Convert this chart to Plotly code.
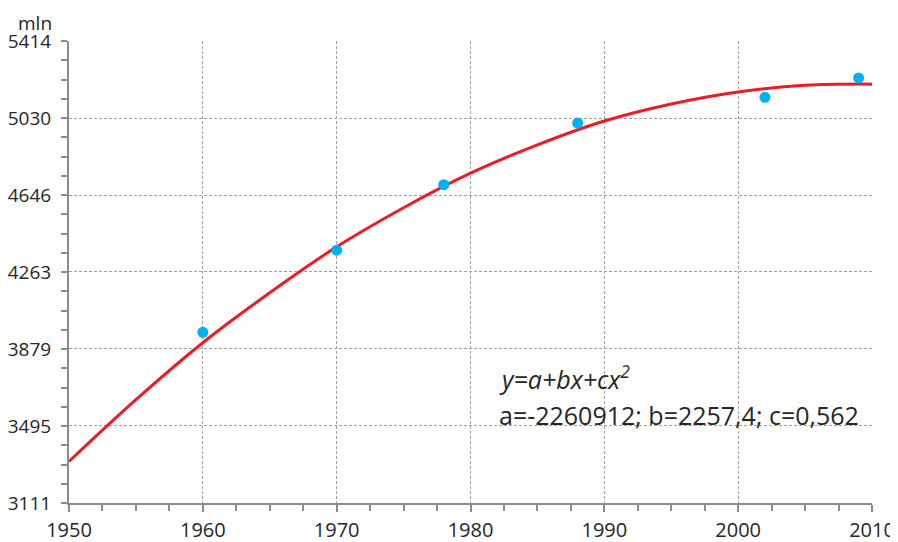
import plotly.graph_objects as go

# Observed data points (year, mln)
point_years = [1960, 1970, 1978, 1988, 2002, 2009]
point_values = [3962, 4371, 4698, 5005, 5133, 5230]

# Fitted trend curve
curve_years = [1950, 1955, 1960, 1965, 1970, 1975, 1980, 1985, 1990, 1995, 2000, 2005, 2010]
curve_values = [3318, 3626, 3910, 4159, 4388, 4583, 4755, 4896, 5015, 5100, 5160, 5193, 5199]

# Axis ticks
x_ticks = [1950, 1960, 1970, 1980, 1990, 2000, 2010]
y_ticks = [3111, 3495, 3879, 4263, 4646, 5030, 5414]
y_ticklabels = [str(v) for v in y_ticks]

# The page body has an 8px margin, so the figure sits at (8, 8) in the window
OFF = 8
W, H = 898 - OFF, 542 - OFF
# plot area in window pixels: x 69..872, y 41..503
L, R, T, B = 69 - OFF, W - (872 - OFF), 41 - OFF, H - (503 - OFF)
pw, ph = W - L - R, H - T - B

def px_to_paper(px, py):
    fx, fy = px - OFF, py - OFF
    return (fx - L) / pw, (H - B - fy) / ph

fig = go.Figure()
fig.add_trace(go.Scatter(
    x=curve_years, y=curve_values, mode="lines",
    line=dict(color="#ED1C24", width=3, shape="spline", smoothing=1.0),
    showlegend=False, hoverinfo="skip"))
fig.add_trace(go.Scatter(
    x=point_years, y=point_values, mode="markers",
    marker=dict(color="#00B0F0", size=11),
    showlegend=False))

font = "Open Sans, DejaVu Sans, sans-serif"
axcol = "#8C8C8C"
gridcol = "#A0A0A0"

fig.update_layout(
    width=W, height=H,
    margin=dict(l=L, r=R, t=T, b=B, pad=0),
    paper_bgcolor="white", plot_bgcolor="white",
    font=dict(family=font, size=20, color="#262626"),
    xaxis=dict(
        range=[1950, 2010], tickmode="array", tickvals=x_ticks,
        ticktext=[str(v) for v in x_ticks], automargin=False,
        showline=True, linecolor=axcol, linewidth=2,
        ticks="outside", ticklen=7, tickwidth=2, tickcolor=axcol,
        showgrid=True, gridcolor=gridcol, griddash="3px,2px", gridwidth=1,
        zeroline=False, ticklabelstandoff=1,
        minor=dict(tick0=1950, dtick=2.5, ticks="outside", ticklen=6,
                   tickwidth=2, tickcolor=axcol, showgrid=False),
    ),
    yaxis=dict(
        range=[3111, 5414], tickmode="array", tickvals=y_ticks,
        ticktext=y_ticklabels, automargin=False, tickfont=dict(size=19),
        showline=True, linecolor=axcol, linewidth=2,
        ticks="outside", ticklen=6, tickwidth=2, tickcolor=axcol,
        showgrid=True, gridcolor=gridcol, griddash="3px,2px", gridwidth=1,
        zeroline=False, ticklabelstandoff=6,
        minor=dict(tick0=3111, dtick=2303 / 24, ticks="outside", ticklen=6,
                   tickwidth=2, tickcolor=axcol, showgrid=False),
    ),
)

ax, ay = px_to_paper(35, 8)
fig.add_annotation(xref="paper", yref="paper", x=ax, y=ay, text="mln",
                   showarrow=False, xanchor="center", yanchor="top",
                   font=dict(size=19))
ex, ey = px_to_paper(497, 377)
fig.add_annotation(xref="paper", yref="paper", x=ex, y=ey,
                   text="<i>y=a+bx+cx<sup>2</sup></i>",
                   showarrow=False, xanchor="left", yanchor="middle",
                   font=dict(size=25))
ex2, ey2 = px_to_paper(497, 415)
fig.add_annotation(xref="paper", yref="paper", x=ex2, y=ey2,
                   text="a=-2260912; b=2257,4; c=0,562",
                   showarrow=False, xanchor="left", yanchor="middle",
                   font=dict(size=25))

fig.write_html("out.html")
